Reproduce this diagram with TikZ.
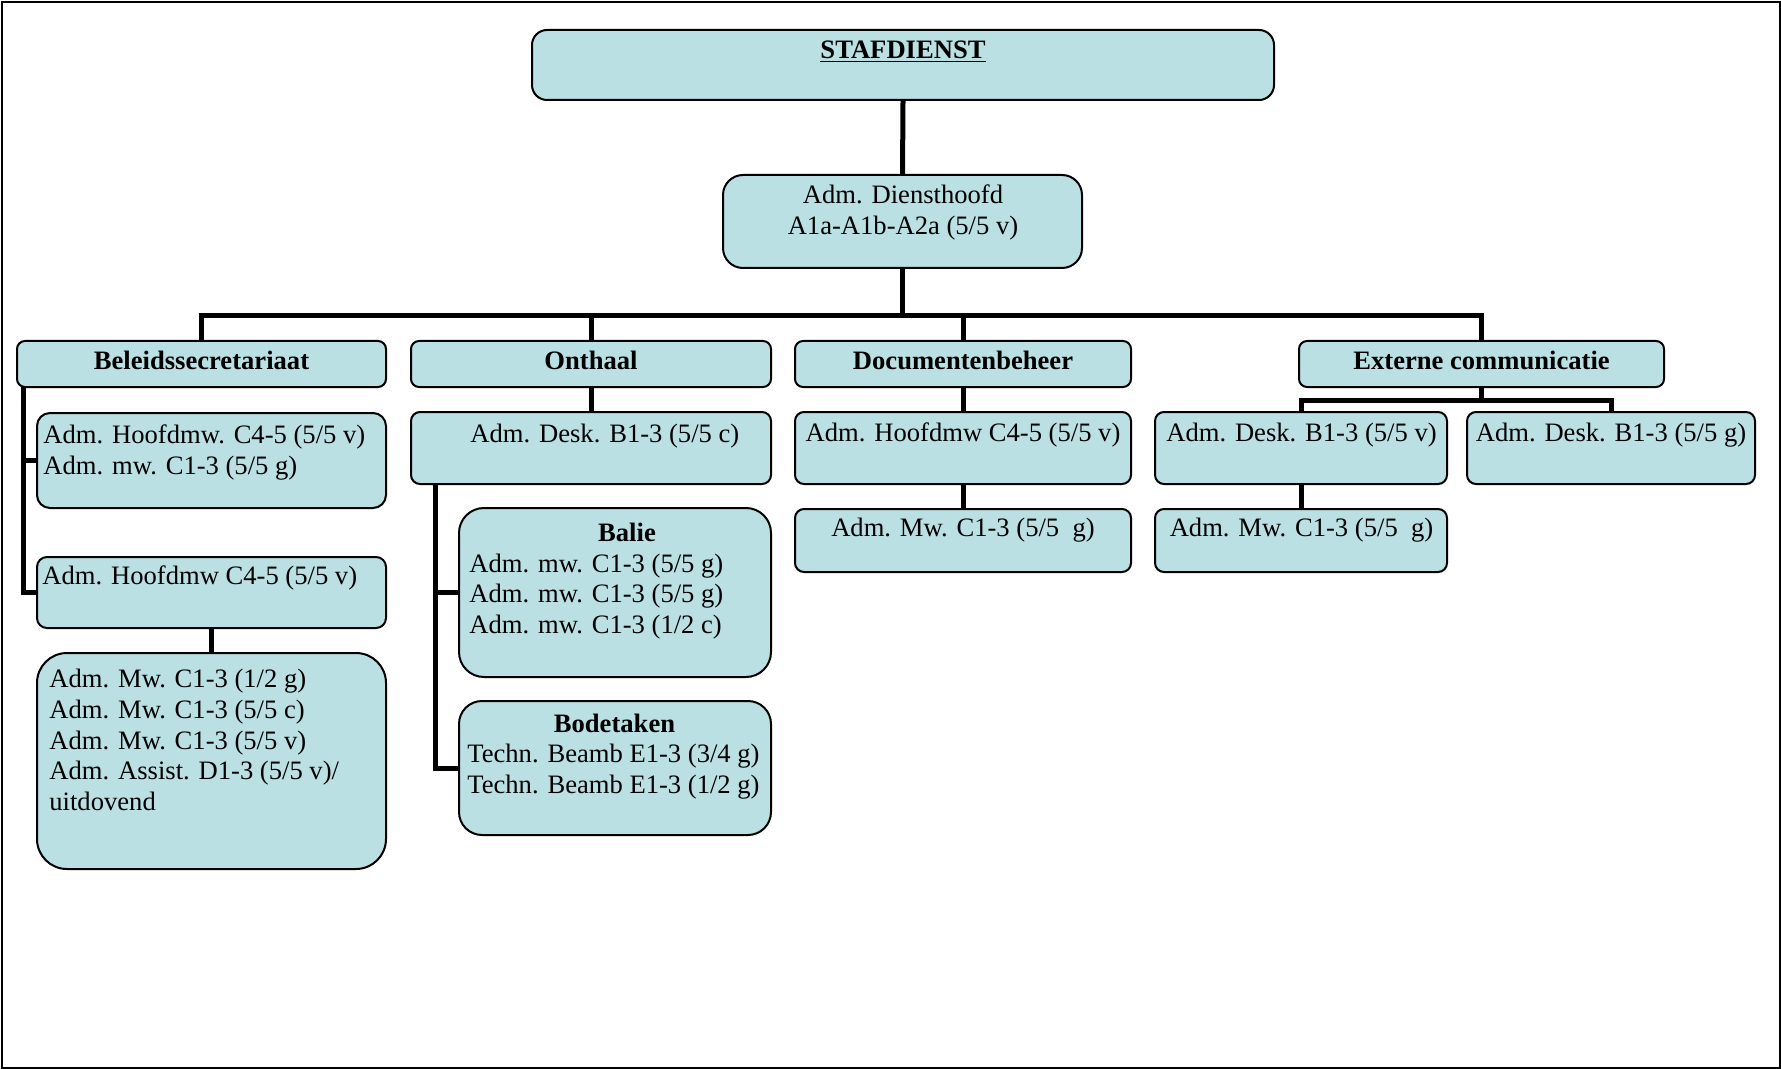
\documentclass[tikz,border=0pt]{standalone}
\usepackage{fontspec}
\setmainfont{Liberation Serif}
\definecolor{boxfill}{RGB}{187,224,227}
\newcommand\mybox[6]{%
  \pgfmathsetmacro\cx{(#3+#5)/2}\pgfmathsetmacro\cy{(#4+#6)/2}%
  \pgfmathsetmacro\ww{(#5-#3)*0.5}\pgfmathsetmacro\hh{(#6-#4)*0.5}%
  \node[box,rounded corners=#1,minimum width=\ww pt,minimum height=\hh pt] (#2) at (\cx,\cy) {};}
\begin{document}
\begin{tikzpicture}[x=0.5pt,y=-0.5pt,
  box/.style={draw=black,line width=1pt,fill=boxfill,inner sep=0pt},
  conn/.style={line width=2.5pt,line join=miter,black},
  txt/.style={inner sep=0pt,anchor=base west,font=\fontsize{13.3}{15.3}\selectfont},
  ctxt/.style={inner sep=0pt,anchor=base,font=\fontsize{13.3}{15.3}\selectfont},
  htxt/.style={inner sep=0pt,anchor=base,font=\fontsize{13.3}{15.3}\selectfont\bfseries}]
\useasboundingbox (0,0) rectangle (1781,1069);
\draw[line width=1pt] (1.5,2) rectangle (1779.5,1067.5);
% boxes
\mybox{7.5pt}{staf}{532}{30}{1274}{100}
\mybox{10pt}{dienst}{723}{175}{1082}{268}
\mybox{4pt}{bel}{17}{341}{386}{387}
\mybox{4pt}{ont}{411}{341}{771}{387}
\mybox{4pt}{doc}{795}{341}{1131}{387}
\mybox{4pt}{ext}{1299}{341}{1664}{387}
\mybox{6.5pt}{bA}{37}{413}{386}{508}
\mybox{5pt}{bB}{37}{557}{386}{628}
\mybox{15pt}{bC}{37}{653}{386}{869}
\mybox{4.5pt}{desk}{411}{412}{771}{484}
\mybox{12.5pt}{balie}{459}{508}{771}{677}
\mybox{11.5pt}{bode}{459}{701}{771}{835}
\mybox{4.5pt}{dh}{795}{412}{1131}{484}
\mybox{4.5pt}{dm}{795}{509}{1131}{572}
\mybox{4.5pt}{ea}{1155}{412}{1447}{484}
\mybox{4.5pt}{eb}{1467}{412}{1755}{484}
\mybox{4.5pt}{ec}{1155}{509}{1447}{572}
% connectors
\coordinate (bus) at (0,316);
\coordinate (extbus) at (0,400);
\coordinate (belsp) at (23,387);
\coordinate (ontsp) at (435,484);
\draw[conn] (staf.south) -- (dienst.north);
\draw[conn] (dienst.south) -- (dienst.south |- bus);
\draw[conn] (bel.north) -- (bel.north |- bus) -- (ext.north |- bus) -- (ext.north);
\draw[conn] (ont.north |- bus) -- (ont.north);
\draw[conn] (doc.north |- bus) -- (doc.north);
\draw[conn] (belsp) |- (bB.west);
\draw[conn] (belsp |- bA.west) -- (bA.west);
\draw[conn] (bB.south) -- (bC.north);
\draw[conn] (ont.south) -- (desk.north);
\draw[conn] (ontsp) |- (bode.west);
\draw[conn] (ontsp |- balie.west) -- (balie.west);
\draw[conn] (doc.south) -- (dh.north);
\draw[conn] (dh.south) -- (dm.north);
\draw[conn] (ext.south) -- (ext.south |- extbus);
\draw[conn] (ea.north) -- (ea.north |- extbus) -- (eb.north |- extbus) -- (eb.north);
\draw[conn] (ea.south) -- (ec.north);
% texts
\node[htxt] (t0) at (903,58.5) {\underline{STAFDIENST}};
\node[ctxt] (t1) at (903,204) {Adm. Diensthoofd};
\node[ctxt] (t2) at (903,234.5) {A1a-A1b-A2a (5/5 v)};
\node[htxt] (h1) at (201.5,369.7) {Beleidssecretariaat};
\node[htxt] (h2) at (591,369.7) {Onthaal};
\node[htxt] (h3) at (963,369.7) {Documentenbeheer};
\node[htxt] (h4) at (1481.5,369.7) {Externe communicatie};
\node[txt] (a1) at (43,443.5) {Adm. Hoofdmw. C4-5 (5/5 v)};
\node[txt] (a2) at (43,474) {Adm. mw. C1-3 (5/5 g)};
\node[txt] (a3) at (42,584) {Adm. Hoofdmw C4-5 (5/5 v)};
\node[txt] (a4) at (49,687.7) {Adm. Mw. C1-3 (1/2 g)};
\node[txt] (a5) at (49,718.4) {Adm. Mw. C1-3 (5/5 c)};
\node[txt] (a6) at (49,749) {Adm. Mw. C1-3 (5/5 v)};
\node[txt] (a7) at (49,779.7) {Adm. Assist. D1-3 (5/5 v)/};
\node[txt] (a8) at (49,810.4) {uitdovend};
\node[txt] (o1) at (470,442.4) {Adm. Desk. B1-3 (5/5 c)};
\node[htxt] (o2) at (627,541.3) {Balie};
\node[txt] (o3) at (469,572) {Adm. mw. C1-3 (5/5 g)};
\node[txt] (o4) at (469,602.6) {Adm. mw. C1-3 (5/5 g)};
\node[txt] (o5) at (469,633.3) {Adm. mw. C1-3 (1/2 c)};
\node[htxt] (o6) at (614.5,732) {Bodetaken};
\node[txt] (o7) at (467,762.7) {Techn. Beamb E1-3 (3/4 g)};
\node[txt] (o8) at (467,793.4) {Techn. Beamb E1-3 (1/2 g)};
\node[ctxt] (d1) at (963,441.3) {Adm. Hoofdmw C4-5 (5/5 v)};
\node[ctxt] (d2) at (963,536.7) {Adm. Mw. C1-3 (5/5 \ g)};
\node[ctxt] (e1) at (1301.5,441.3) {Adm. Desk. B1-3 (5/5 v)};
\node[ctxt] (e2) at (1611,441.3) {Adm. Desk. B1-3 (5/5 g)};
\node[ctxt] (e3) at (1301.5,536.7) {Adm. Mw. C1-3 (5/5 \ g)};
\end{tikzpicture}
\end{document}
